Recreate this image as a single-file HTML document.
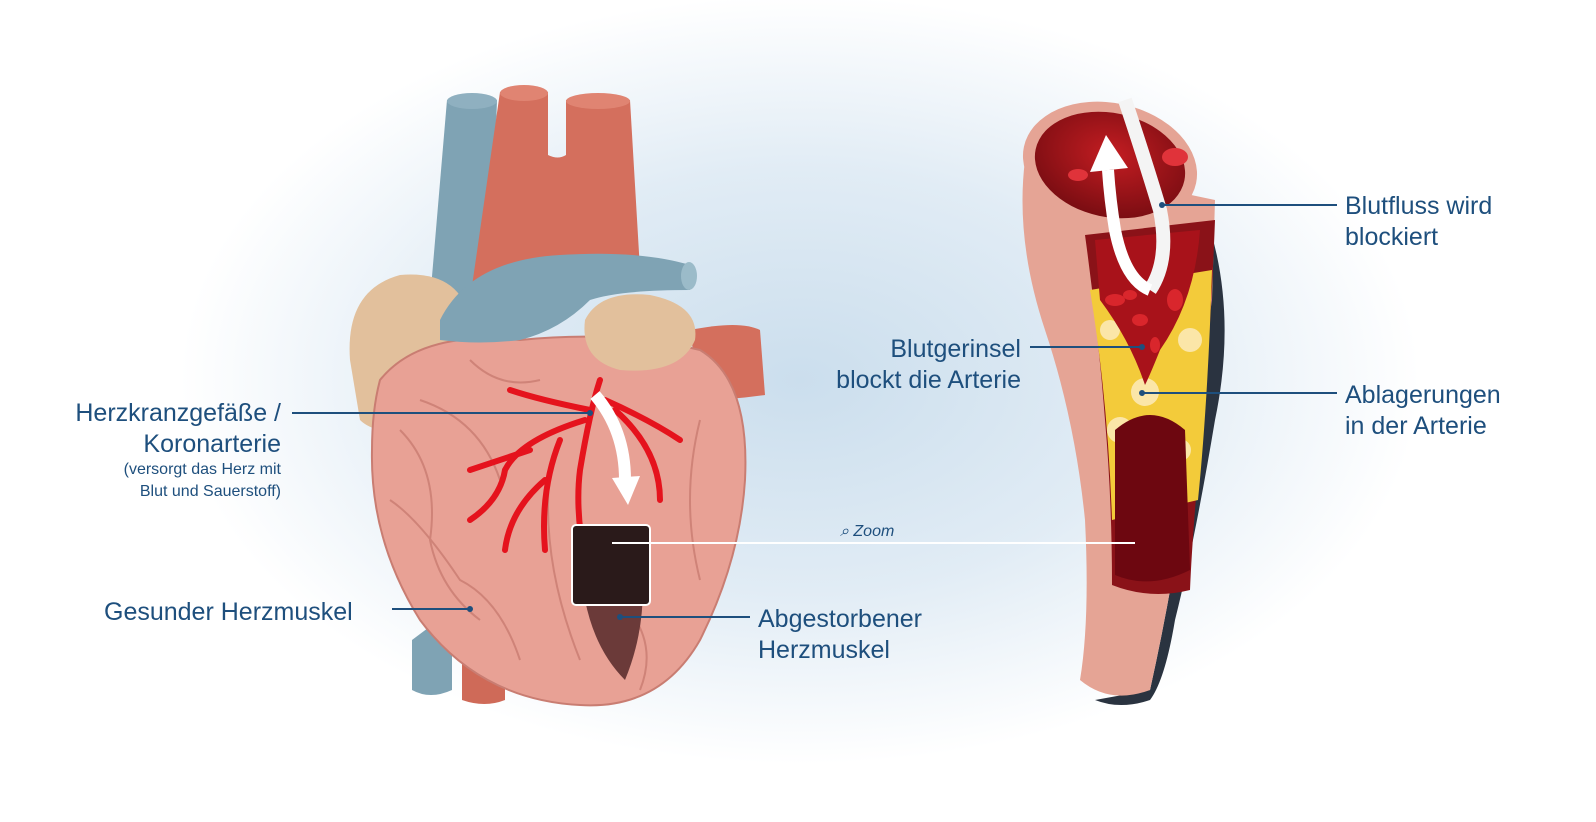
<!DOCTYPE html>
<html><head><meta charset="utf-8"><style>
html,body{margin:0;padding:0;width:1596px;height:822px;overflow:hidden;background:#fff}
svg{display:block}
text{font-family:"Liberation Sans",sans-serif;fill:#1e4f7d}
</style></head><body>
<svg width="1596" height="822" viewBox="0 0 1596 822" xmlns="http://www.w3.org/2000/svg">
<defs>
<radialGradient id="bg" cx="800" cy="380" r="620" gradientUnits="userSpaceOnUse" gradientTransform="translate(800 380) scale(1 0.62) translate(-800 -380)">
<stop offset="0" stop-color="#cbdeed"/><stop offset="0.55" stop-color="#e1ecf5"/><stop offset="1" stop-color="#ffffff"/>
</radialGradient>
<radialGradient id="lum" cx="0.5" cy="0.4" r="0.6"><stop offset="0" stop-color="#c41d22"/><stop offset="1" stop-color="#7a0d12"/></radialGradient>
</defs>
<rect width="1596" height="822" fill="#fff"/>
<rect width="1596" height="822" fill="url(#bg)"/>

<!-- HEART -->
<path d="M412 640 L412 690 Q430 700 452 690 L452 610 Z" fill="#7fa3b4"/>
<path d="M462 630 L462 700 Q485 708 505 700 L505 620 Z" fill="#cf6a58"/>
<path d="M447 100 Q470 92 497 100 L490 300 L430 300 Z" fill="#7fa3b4"/>
<ellipse cx="472" cy="101" rx="25" ry="8" fill="#8fb0c0"/>
<path d="M500 92 L548 92 L548 155 Q558 160 566 155 L566 100 L630 100 L640 270 L470 300 Z" fill="#d46f5d"/>
<ellipse cx="524" cy="93" rx="24" ry="8" fill="#e08472"/>
<ellipse cx="598" cy="101" rx="32" ry="8" fill="#e08472"/>
<path d="M690 330 Q740 320 760 330 L765 395 Q730 400 700 400 Z" fill="#d46f5d"/>
<path d="M350 360 Q345 290 400 275 Q460 270 470 320 L450 430 Q380 440 360 420 Z" fill="#e2c09c"/>
<path d="M380 380 Q420 330 520 340 Q620 330 700 350 Q750 380 745 480 Q740 560 700 640 Q660 710 580 705 Q480 700 420 620 Q370 540 372 450 Q372 410 380 380 Z" fill="#e8a195" stroke="#c97d72" stroke-width="2"/>
<g fill="none" stroke="#cf8378" stroke-width="2">
<path d="M400 430 Q440 470 430 540 Q440 590 480 620"/>
<path d="M420 400 Q480 420 500 480"/>
<path d="M390 500 Q420 520 460 580 Q500 600 520 660"/>
<path d="M700 420 Q680 500 700 580"/>
<path d="M620 600 Q660 640 640 690"/>
<path d="M550 470 Q540 560 580 660"/>
<path d="M470 360 Q500 390 540 380"/>
</g>
<path d="M585 540 Q610 520 640 550 Q650 620 625 680 Q595 650 585 600 Z" fill="#6b3a39"/>
<path d="M440 320 Q470 260 560 255 Q640 250 690 265 L690 290 Q620 290 590 300 Q560 330 520 340 Q480 345 440 340 Z" fill="#7fa3b4"/>
<ellipse cx="689" cy="276" rx="8" ry="14" fill="#9bbbc9"/>
<path d="M585 320 Q600 290 650 295 Q700 305 695 340 Q680 375 620 370 Q580 360 585 320 Z" fill="#e2c09c"/>
<g fill="none" stroke="#e5131d" stroke-width="6" stroke-linecap="round">
<path d="M600 380 Q590 410 580 470 Q575 510 585 560"/>
<path d="M590 410 Q540 400 510 390"/>
<path d="M585 420 Q520 440 505 470 Q500 500 470 520"/>
<path d="M560 440 Q540 490 545 550"/>
<path d="M605 400 Q650 420 680 440"/>
<path d="M615 410 Q660 450 660 500"/>
<path d="M530 450 Q500 460 470 470"/>
<path d="M545 480 Q510 510 505 550"/>
</g>
<path d="M595 395 Q625 430 625 480" fill="none" stroke="#fff" stroke-width="12"/>
<path d="M612 478 L640 476 L628 505 Z" fill="#fff"/>
<rect x="572" y="525" width="78" height="80" rx="4" fill="#2a1a1a" stroke="#fff" stroke-width="2"/>

<!-- ARTERY -->
<path d="M1200 200 Q1240 300 1215 420 Q1195 540 1175 620 Q1165 680 1150 700 Q1120 710 1095 700 L1150 690 Q1170 600 1185 500 Q1200 380 1205 210 Z" fill="#2a3340"/>
<path d="M1025 160 Q1015 240 1045 330 Q1075 420 1085 520 Q1090 620 1080 680 Q1110 705 1150 690 Q1170 600 1185 500 Q1200 380 1212 300 L1215 200 Z" fill="#e5a495"/>
<path d="M1085 235 L1215 220 Q1210 350 1200 450 Q1192 540 1190 590 Q1150 600 1112 585 Q1112 500 1105 420 Q1098 330 1085 235 Z" fill="#8a1218"/>
<path d="M1090 290 L1212 270 Q1208 400 1198 500 L1112 520 Q1108 400 1090 290 Z" fill="#f3cb3a"/>
<g fill="#fbe6a8"><circle cx="1110" cy="330" r="10"/><circle cx="1190" cy="340" r="12"/><circle cx="1120" cy="430" r="13"/><circle cx="1180" cy="450" r="11"/><circle cx="1145" cy="392" r="14"/></g>
<path d="M1095 240 L1200 230 Q1195 300 1160 350 Q1150 375 1145 385 Q1130 340 1100 300 Z" fill="#a8121a"/>
<path d="M1115 430 Q1150 400 1185 430 L1190 570 Q1150 590 1115 575 Z" fill="#6d0710"/>
<g fill="#d9262c"><ellipse cx="1115" cy="300" rx="10" ry="6"/><ellipse cx="1140" cy="320" rx="8" ry="6"/><ellipse cx="1175" cy="300" rx="8" ry="11"/><ellipse cx="1155" cy="345" rx="5" ry="8"/><ellipse cx="1130" cy="295" rx="7" ry="5"/></g>
<ellipse cx="1110" cy="165" rx="88" ry="62" transform="rotate(12 1110 165)" fill="#e5a495"/>
<ellipse cx="1110" cy="165" rx="76" ry="52" transform="rotate(12 1110 165)" fill="url(#lum)"/>
<g fill="#e0333a"><ellipse cx="1175" cy="157" rx="13" ry="9"/><ellipse cx="1078" cy="175" rx="10" ry="6"/></g>
<path d="M1125 100 Q1145 160 1160 210 Q1170 260 1150 290" fill="none" stroke="#f4f4f4" stroke-width="14"/>
<path d="M1150 290 Q1125 280 1115 230 Q1110 200 1108 170" fill="none" stroke="#fff" stroke-width="12"/>
<path d="M1090 172 L1106 135 L1128 168 Z" fill="#fff"/>

<g stroke="#1e4f7d" stroke-width="2">
<line x1="292" y1="413" x2="590" y2="413"/>
<line x1="392" y1="609" x2="470" y2="609"/>
<line x1="620" y1="617" x2="750" y2="617"/>
<line x1="1030" y1="347" x2="1142" y2="347"/>
<line x1="1162" y1="205" x2="1337" y2="205"/>
<line x1="1142" y1="393" x2="1337" y2="393"/>
</g>
<g fill="#1e4f7d"><circle cx="590" cy="413" r="3"/><circle cx="470" cy="609" r="3"/><circle cx="620" cy="617" r="3"/><circle cx="1142" cy="347" r="3"/><circle cx="1162" cy="205" r="3"/><circle cx="1142" cy="393" r="3"/></g>
<line x1="612" y1="543" x2="1135" y2="543" stroke="#fff" stroke-width="2"/>

<g font-size="25">
<text x="281" y="421" text-anchor="end">Herzkranzgefäße /</text>
<text x="281" y="452" text-anchor="end">Koronarterie</text>
<text x="104" y="620">Gesunder Herzmuskel</text>
<text x="758" y="627">Abgestorbener</text>
<text x="758" y="658">Herzmuskel</text>
<text x="1021" y="357" text-anchor="end">Blutgerinsel</text>
<text x="1021" y="388" text-anchor="end">blockt die Arterie</text>
<text x="1345" y="214">Blutfluss wird</text>
<text x="1345" y="245">blockiert</text>
<text x="1345" y="403">Ablagerungen</text>
<text x="1345" y="434">in der Arterie</text>
</g>
<g font-size="16">
<text x="281" y="474" text-anchor="end">(versorgt das Herz mit</text>
<text x="281" y="496" text-anchor="end">Blut und Sauerstoff)</text>
<text x="840" y="536" font-style="italic">⌕ Zoom</text>
</g>
</svg>
</body></html>
